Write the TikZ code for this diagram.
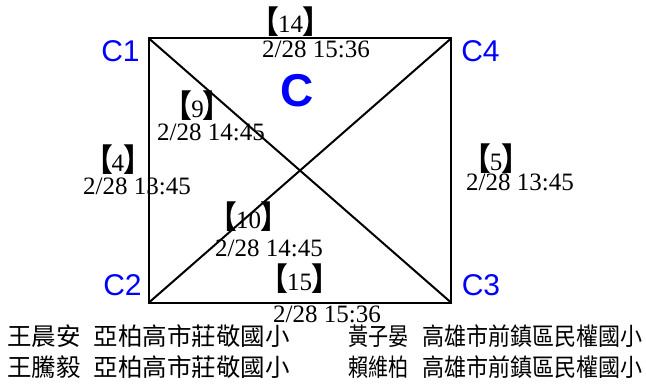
\documentclass[tikz,border=0pt]{standalone}
\usepackage{fontspec}
\setmainfont{Liberation Serif}
\newfontfamily\sansfnt{Liberation Sans}
\newfontfamily\cjk{Noto Sans CJK TC}
\newcommand{\brl}{\raisebox{-0.5pt}{\scalebox{1.15}[1.25]{\cjk\bfseries 【}}}
\newcommand{\brr}{\raisebox{-0.5pt}{\scalebox{1.15}[1.25]{\cjk\bfseries 】}}}
\newcommand{\brlab}[1]{\brl\kern-1pt#1\kern-1pt\brr}
\begin{document}
\begin{tikzpicture}[x=1pt,y=-1pt,
  edge/.style={line width=2pt,black},
  corner/.style={inner sep=0pt,text=blue,font=\sansfnt\fontsize{30}{30}\selectfont},
  idlab/.style={inner sep=0pt,anchor=center,font=\fontsize{25}{25}\selectfont},
  timelab/.style={inner sep=0pt,anchor=base west,font=\fontsize{25}{25}\selectfont},
  names/.style={inner sep=0pt,anchor=center,font=\cjk\fontsize{24.5}{24.5}\selectfont}]
\useasboundingbox (0,0) rectangle (646,385);
\coordinate (p1) at (149,38.5);
\coordinate (p4) at (451,38.5);
\coordinate (p2) at (149,302.5);
\coordinate (p3) at (451,302.5);
\draw[edge,line join=miter] (p1) -- (p4) -- (p3) -- (p2) -- cycle;
\draw[edge] (p1) -- (p3);
\draw[edge] (p2) -- (p4);
\node[corner] (c1) at (120.5,51) {C1};
\node[corner] (c4) at (480.5,51) {C4};
\node[corner] (c2) at (122.5,285.5) {C2};
\node[corner] (c3) at (481,285.5) {C3};
\node[inner sep=0pt,text=blue,font=\sansfnt\bfseries\fontsize{46}{46}\selectfont] (big) at (297,91) {C};
\node[idlab] (l14) at (290.5,21.5) {\brlab{14}};
\node[timelab] (t14) at (262,58) {2/28 15:36};
\node[idlab] (l9) at (197.5,106) {\brlab{9}};
\node[timelab] (t9) at (157,141) {2/28 14:45};
\node[idlab] (l4) at (118,160) {\brlab{4}};
\node[timelab] (t4) at (83,195) {2/28 13:45};
\node[idlab] (l10) at (248.5,217) {\brlab{10}};
\node[timelab] (t10) at (215,256) {2/28 14:45};
\node[idlab] (l5) at (496,159) {\brlab{5}};
\node[timelab] (t5) at (466,191) {2/28 13:45};
\node[idlab] (l15) at (299.5,279) {\brlab{15}};
\node[timelab] (t15) at (273,322) {2/28 15:36};
\node[names] (n1) at (44,336.5) {王晨安};
\node[names] (s1) at (191.5,336.5) {亞柏高市莊敬國小};
\node[names] (n2) at (44,367.5) {王騰毅};
\node[names] (s2) at (191.5,367.5) {亞柏高市莊敬國小};
\node[names] (n3) at (378.5,336.5) {\scalebox{0.82}[1]{黃子晏}};
\node[names] (s3) at (532.5,336.5) {\scalebox{0.9}[1]{高雄市前鎮區民權國小}};
\node[names] (n4) at (378.5,367.5) {\scalebox{0.82}[1]{賴維柏}};
\node[names] (s4) at (532.5,367.5) {\scalebox{0.9}[1]{高雄市前鎮區民權國小}};
\end{tikzpicture}
\end{document}
